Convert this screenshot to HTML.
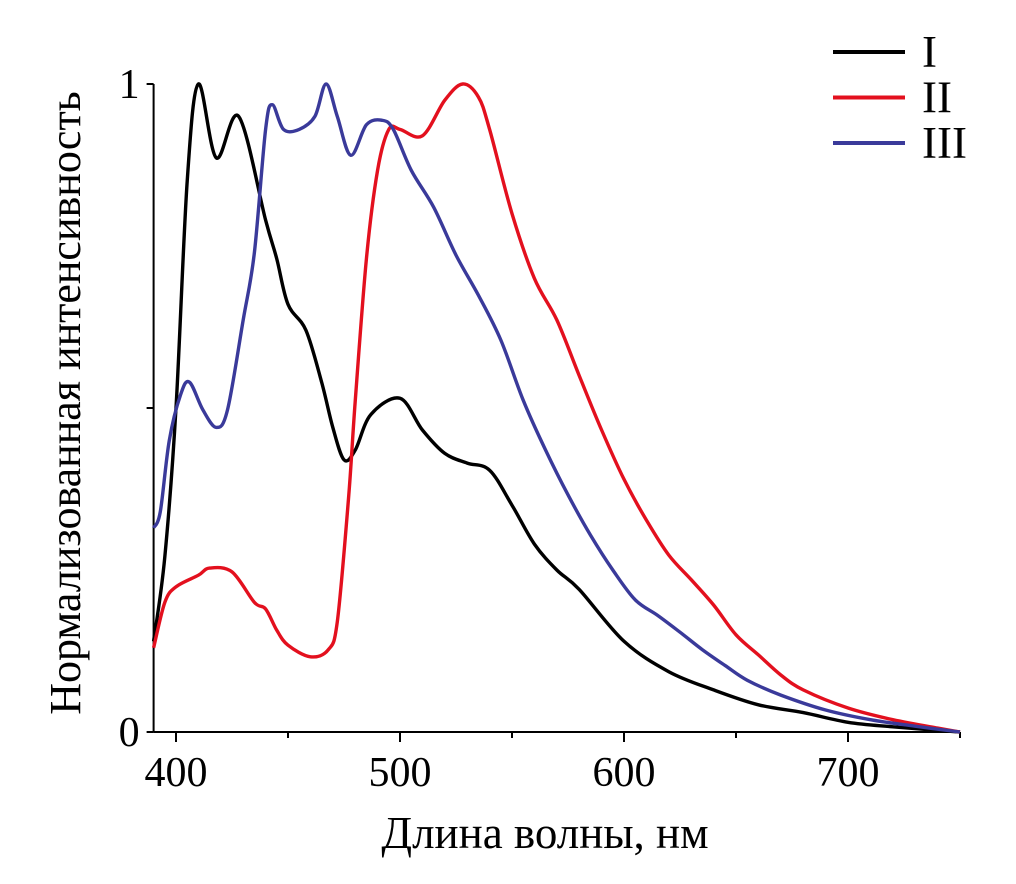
<!DOCTYPE html>
<html><head><meta charset="utf-8"><style>
html,body{margin:0;padding:0;background:#fff;}
svg{display:block;font-family:"Liberation Serif",serif;}
</style></head><body>
<svg id="chart" width="1016" height="884" viewBox="0 0 1016 884"></svg>
<script>
const xTicks=[400,500,600,700];
const xMinor=[450,550,650,750];
const yTicks=[0,0.5,1];
const yTickLabels=["0","","1"];
const seriesNames=["I","II","III"];
const seriesColors=["#000000","#e3101e","#3a3a9a"];
const wlI=[390,395,400,405,410,418,428,440,445,450,458,465,470,475,480,487,500,510,520,530,540,550,560,570,580,600,620,640,660,680,700,720,750];
const valI=[0.14,0.27,0.5,0.85,1.0,0.886,0.95,0.79,0.73,0.66,0.62,0.54,0.47,0.42,0.435,0.49,0.515,0.466,0.43,0.415,0.404,0.35,0.29,0.25,0.22,0.14,0.093,0.065,0.042,0.03,0.015,0.008,0];
const wlII=[390,395,400,410,415,425,435,440,445,450,460,468,472,477,480,485,490,495,500,510,520,528,535,540,550,560,570,580,590,600,610,620,630,640,650,660,670,680,700,720,740,750];
const valII=[0.13,0.2,0.224,0.242,0.253,0.247,0.2,0.19,0.157,0.134,0.116,0.127,0.17,0.36,0.51,0.73,0.867,0.93,0.93,0.92,0.975,1.0,0.98,0.93,0.8,0.7,0.636,0.55,0.466,0.39,0.327,0.273,0.235,0.196,0.15,0.119,0.088,0.065,0.037,0.019,0.006,0];
const wlIII=[390,393,397,402,406,412,418,423,430,435,440,443,448,455,462,467,472,478,485,492,497,505,515,525,535,545,555,565,575,585,595,605,615,625,635,645,655,670,690,710,730,750];
const valIII=[0.315,0.34,0.45,0.52,0.54,0.497,0.47,0.497,0.636,0.74,0.93,0.968,0.93,0.93,0.95,1.0,0.95,0.89,0.937,0.944,0.93,0.867,0.81,0.736,0.674,0.605,0.512,0.435,0.366,0.304,0.25,0.204,0.18,0.154,0.127,0.103,0.08,0.057,0.034,0.019,0.009,0];

const NS="http://www.w3.org/2000/svg";
const svg=document.getElementById('chart');
const X=v=>176+(v-400)*2.24;
const Y=v=>732-v*648;
function mk(tag,attrs,parent){const e=document.createElementNS(NS,tag);for(const k in attrs)e.setAttribute(k,attrs[k]);(parent||svg).appendChild(e);return e;}
function smooth(p){
  let d='M'+p[0][0].toFixed(1)+','+p[0][1].toFixed(1);
  for(let i=0;i<p.length-1;i++){
    const p0=p[i-1]||p[i],p1=p[i],p2=p[i+1],p3=p[i+2]||p2;
    const c1=[p1[0]+(p2[0]-p0[0])/6,p1[1]+(p2[1]-p0[1])/6];
    const c2=[p2[0]-(p3[0]-p1[0])/6,p2[1]-(p3[1]-p1[1])/6];
    d+='C'+c1.map(v=>v.toFixed(1))+' '+c2.map(v=>v.toFixed(1))+' '+p2[0].toFixed(1)+','+p2[1].toFixed(1);
  }
  return d;
}

const axes=mk('g',{});


const xa=mk('line',{x1:X(390),y1:732,x2:X(750),y2:732,stroke:'#000','stroke-width':2},axes);


const ya=mk('line',{x1:X(390),y1:84,x2:X(390),y2:732,stroke:'#000','stroke-width':2},axes);


xTicks.forEach(t=>{
  const l=mk('line',{x1:X(t),y1:732,x2:X(t),y2:742,stroke:'#000','stroke-width':2},axes);
  
  
  const tx=mk('text',{x:X(t),y:786,'text-anchor':'middle','font-size':42},axes);
  tx.textContent=t;
  
  
});
xMinor.forEach(t=>{
  const l=mk('line',{x1:X(t),y1:732,x2:X(t),y2:738,stroke:'#000','stroke-width':2},axes);
  
  
});
yTicks.forEach((t,i)=>{
  const l=mk('line',{x1:X(390)-7,y1:Y(t),x2:X(390),y2:Y(t),stroke:'#000','stroke-width':2},axes);
  
  
  if(yTickLabels[i]){
    const tx=mk('text',{x:X(390)-14,y:Y(t)+14,'text-anchor':'end','font-size':42},axes);
    tx.textContent=yTickLabels[i];
    
    
  }
});
const xt=mk('text',{x:545,y:848,'text-anchor':'middle','font-size':45});
xt.textContent='Длина волны, нм';


const yt=mk('text',{x:0,y:0,'text-anchor':'middle','font-size':44,transform:'translate(80,403) rotate(-90)'});
yt.textContent='Нормализованная интенсивность';



const data=[[wlI,valI],[wlII,valII],[wlIII,valIII]];
data.forEach((d,i)=>{
  const pts=d[0].map((w,j)=>[X(w),Y(d[1][j])]);
  const p=mk('path',{d:smooth(pts),fill:'none',stroke:seriesColors[i],'stroke-width':3.4,'stroke-linejoin':'round'});
  
  
});

const legend=mk('g',{});


seriesNames.forEach((n,i)=>{
  const y=52+i*45.5;
  const g=mk('g',{},legend);
  
  
  mk('line',{x1:833,y1:y,x2:905,y2:y,stroke:seriesColors[i],'stroke-width':4},g);
  const t=mk('text',{x:922,y:y+15,'font-size':45},g);
  t.textContent=n;
});
</script>
</body></html>
